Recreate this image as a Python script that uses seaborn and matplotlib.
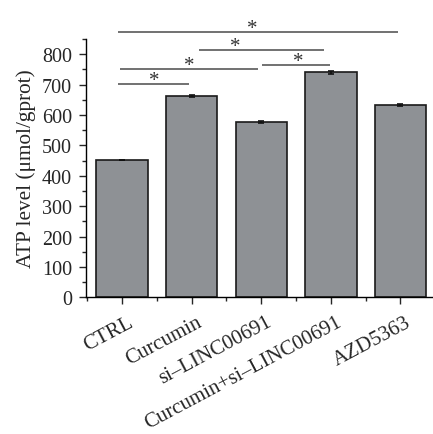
import matplotlib
matplotlib.use("Agg")
import matplotlib.pyplot as plt
import matplotlib.transforms as mtransforms
import seaborn as sns
import pandas as pd
from matplotlib.ticker import MultipleLocator

# ---- data ----
groups = ["CTRL", "Curcumin", "si\u2013LINC00691", "Curcumin+si\u2013LINC00691", "AZD5363"]
atp_values = [451, 662, 577, 740, 633]
atp_errors = [0, 4, 4, 4, 4]

# significance brackets: (start x, end x, height, star x)
sig_start = [-0.06, 1.10, -0.03, 2.01, -0.06]
sig_end = [3.97, 2.90, 1.96, 2.99, 0.96]
sig_height = [874, 814, 752, 764, 701]
sig_star_x = [1.87, 1.62, 0.96, 2.53, 0.46]
sig_label = ["*", "*", "*", "*", "*"]

yticks = [0, 100, 200, 300, 400, 500, 600, 700, 800]

sns.set_theme(style="ticks")
plt.rcParams["font.family"] = ["Liberation Serif", "DejaVu Serif"]

FS_TICK = 14.5
FS_LAB = 15.0

fig = plt.figure(figsize=(4.33, 4.35), dpi=100)
ax = fig.add_axes([86 / 433, 1 - 298.3 / 435, (433 - 86) / 433, (298.3 - 40) / 435])

df = pd.DataFrame({"group": groups, "atp": atp_values})
sns.barplot(data=df, x="group", y="atp", ax=ax, color="#8e9195",
            edgecolor="#1a1a1a", linewidth=1.2, width=0.74, errorbar=None,
            saturation=1)
xs = list(range(len(groups)))
ax.errorbar(xs, atp_values, yerr=atp_errors, fmt="none", ecolor="#111111",
            elinewidth=1.2, capsize=2.5, capthick=1.2, zorder=5)

ax.set_xlim(-0.52, 4.47)
ax.set_ylim(0, 850)
ax.set_yticks(yticks)
ax.yaxis.set_minor_locator(MultipleLocator(50))
ax.xaxis.set_minor_locator(MultipleLocator(1, offset=0.5))
ax.set_xlabel("")
ax.set_ylabel("ATP level (\u03bcmol/gprot)", fontsize=15.3, labelpad=4)
ax.tick_params(axis="y", which="major", length=5, width=1, labelsize=FS_TICK, pad=5, direction="out")
ax.tick_params(axis="y", which="minor", length=3, width=1, direction="out")
ax.tick_params(axis="x", which="major", length=5, width=1, labelsize=FS_LAB, pad=3, direction="out")
ax.tick_params(axis="x", which="minor", length=3, width=1, direction="out")
ax.set_xticks(xs)
ax.set_xticklabels(groups, rotation=28, ha="right", rotation_mode="anchor")
offset = mtransforms.ScaledTranslation(5 / 100, -4 / 100, fig.dpi_scale_trans)
for lab in ax.get_xticklabels():
    lab.set_fontsize(FS_LAB)
    lab.set_transform(lab.get_transform() + offset)
for s in ["top", "right"]:
    ax.spines[s].set_visible(False)
for s in ["left", "bottom"]:
    ax.spines[s].set_linewidth(1)
    ax.spines[s].set_color("black")

for x1, x2, h, sx, lab in zip(sig_start, sig_end, sig_height, sig_star_x, sig_label):
    ax.plot([x1, x2], [h, h], color="#4a4a4a", lw=1.1, clip_on=False, solid_capstyle="butt")
    ax.text(sx, h - 4, lab, ha="center", va="baseline", fontsize=15, color="#333333", clip_on=False)

fig.savefig("out.png", dpi=100)
